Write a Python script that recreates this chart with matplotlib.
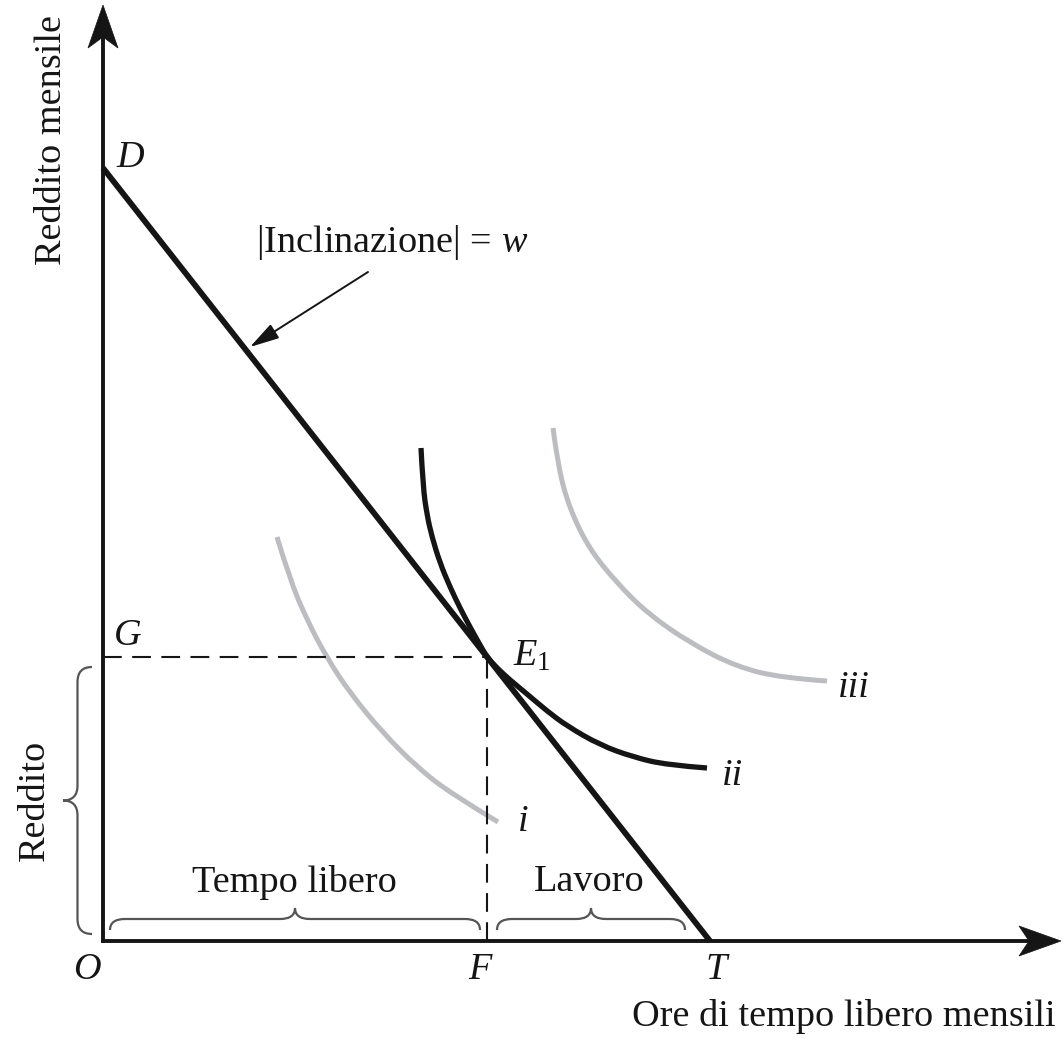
import numpy as np
import matplotlib
matplotlib.use("Agg")
import matplotlib.pyplot as plt
from matplotlib.path import Path
from matplotlib.patches import PathPatch, Polygon

plt.rcParams['font.family'] = ['Liberation Serif', 'DejaVu Serif']
plt.rcParams['mathtext.fontset'] = 'custom'
plt.rcParams['mathtext.rm'] = 'Liberation Serif'
plt.rcParams['mathtext.it'] = 'Liberation Serif:italic'

# Vincolo di bilancio: D (asse verticale) e T (asse orizzontale)
punto_D = (0, 773)
punto_T = (607, 0)
# Equilibrio E1
punto_E1 = (384, 284)

# Curve di indifferenza
ii_x = [318, 320, 324, 329, 337, 347, 357, 367, 377, 384, 394, 407, 424, 444, 464, 497, 530, 564, 604]
ii_y = [493, 454, 426, 404, 378, 354, 333, 314, 296, 284, 273, 261, 247, 230, 215, 196, 184, 176, 173]

i_x = [174, 187, 204, 224, 247, 280, 314, 347, 395]
i_y = [404, 361, 321, 283, 248, 208, 174, 148, 119]

iii_x = [450, 455, 467, 487, 514, 544, 587, 634, 680, 724]
iii_y = [513, 474, 431, 391, 358, 328, 298, 274, 263, 260]

fig = plt.figure(figsize=(10.63, 10.38), dpi=100)
ax = fig.add_axes([0, 0, 1, 1])
ax.set_xlim(-103, 960)
ax.set_ylim(-97, 941)
ax.axis('off')

nero = '#151515'
grigio = '#bcbdc1'
graffa = '#555555'


def curva_liscia(xs, ys, colore, lw):
    # percorso morbido: i punti letti fanno da controllo, si passa per i punti medi
    p = list(zip(xs, ys))
    verts = [p[0]]
    codes = [Path.MOVETO]
    for k in range(1, len(p) - 1):
        mid = ((p[k][0] + p[k + 1][0]) / 2, (p[k][1] + p[k + 1][1]) / 2)
        if k == len(p) - 2:
            mid = p[-1]
        verts += [p[k], mid]
        codes += [Path.CURVE3, Path.CURVE3]
    ax.add_patch(PathPatch(Path(verts, codes), fill=False, edgecolor=colore, lw=lw,
                           capstyle='butt', joinstyle='round'))


# assi con frecce
ax.plot([0, 0], [0, 905], color=nero, lw=2.8, solid_capstyle='projecting')
ax.plot([0, 928], [0, 0], color=nero, lw=2.8, solid_capstyle='projecting')
ax.add_patch(Polygon([(0, 936), (-15, 893), (0, 904), (15, 893)], closed=True,
                     facecolor=nero, edgecolor=nero, lw=0.5))
ax.add_patch(Polygon([(958, 0), (916, 15), (926, 0), (916, -15)], closed=True,
                     facecolor=nero, edgecolor=nero, lw=0.5))

# tratteggi G-E1-F
ax.plot([0, punto_E1[0]], [punto_E1[1], punto_E1[1]], color=nero, lw=1.5,
        linestyle=(0, (9, 5)))
ax.plot([punto_E1[0], punto_E1[0]], [0, punto_E1[1]], color=nero, lw=1.5,
        linestyle=(0, (9, 5)))

# curve grigie
curva_liscia(i_x, i_y, grigio, 3.6)
curva_liscia(iii_x, iii_y, grigio, 3.6)

# vincolo di bilancio
ax.plot([punto_D[0], punto_T[0]], [punto_D[1], punto_T[1]], color=nero, lw=4.2,
        solid_capstyle='butt')
# curva ii
curva_liscia(ii_x, ii_y, nero, 3.8)


def graffa_orizz(x0, x1, yb, h):
    r = 15
    ym = yb + h / 2
    xm = (x0 + x1) / 2
    verts = [(x0, yb), (x0, ym), (x0 + r, ym), (xm - r, ym), (xm, ym), (xm, yb + h),
             (xm, ym), (xm + r, ym), (x1 - r, ym), (x1, ym), (x1, yb)]
    codes = [Path.MOVETO, Path.CURVE3, Path.CURVE3, Path.LINETO, Path.CURVE3, Path.CURVE3,
             Path.CURVE3, Path.CURVE3, Path.LINETO, Path.CURVE3, Path.CURVE3]
    ax.add_patch(PathPatch(Path(verts, codes), fill=False, edgecolor=graffa, lw=1.6))


def graffa_vert(y0, y1, xb, w):
    r = 15
    xm = xb + w / 2
    ym = (y0 + y1) / 2
    verts = [(xb, y0), (xm, y0), (xm, y0 + r), (xm, ym - r), (xm, ym), (xb + w, ym),
             (xm, ym), (xm, ym + r), (xm, y1 - r), (xm, y1), (xb, y1)]
    codes = [Path.MOVETO, Path.CURVE3, Path.CURVE3, Path.LINETO, Path.CURVE3, Path.CURVE3,
             Path.CURVE3, Path.CURVE3, Path.LINETO, Path.CURVE3, Path.CURVE3]
    ax.add_patch(PathPatch(Path(verts, codes), fill=False, edgecolor=graffa, lw=1.6))


graffa_orizz(7, 377, 11, 22)
graffa_orizz(394, 582, 11, 22)
graffa_vert(7, 274, -11, -29)

# freccia inclinazione
ax.annotate('', xy=(147, 594), xytext=(265, 669),
            arrowprops=dict(arrowstyle='-|>,head_length=0.9,head_width=0.25',
                            color=nero, lw=1.4, mutation_scale=20,
                            shrinkA=0, shrinkB=0))

fs = 27.5
testo = dict(fontsize=fs, color=nero)
ax.text(-51, 801, 'Reddito mensile', rotation=90, ha='center', va='center', **testo)
ax.text(-68, 141, 'Reddito', rotation=90, ha='center', va='center', **testo)
ax.text(289, 698, '|Inclinazione| = $w$', ha='center', va='center', **testo)
ax.text(191, 59, 'Tempo libero', ha='center', va='center', **testo)
ax.text(486, 59, 'Lavoro', ha='center', va='center', **testo)
ax.text(741, -75, 'Ore di tempo libero mensili', ha='center', va='center', **testo)

it = dict(fontsize=fs, color=nero, style='italic', va='center')
ax.text(27, 783, 'D', ha='center', **it)
ax.text(25, 305, 'G', ha='center', **it)
ax.text(410, 285, '$E_1$', ha='left', fontsize=fs, color=nero, va='center')
ax.text(-16, -29, 'O', ha='center', **it)
ax.text(377, -29, 'F', ha='center', **it)
ax.text(613, -29, 'T', ha='center', **it)
ax.text(415, 119, 'i', ha='left', **it)
ax.text(619, 165, 'ii', ha='left', **it)
ax.text(735, 253, 'iii', ha='left', **it)

fig.savefig('out.png', dpi=100)
